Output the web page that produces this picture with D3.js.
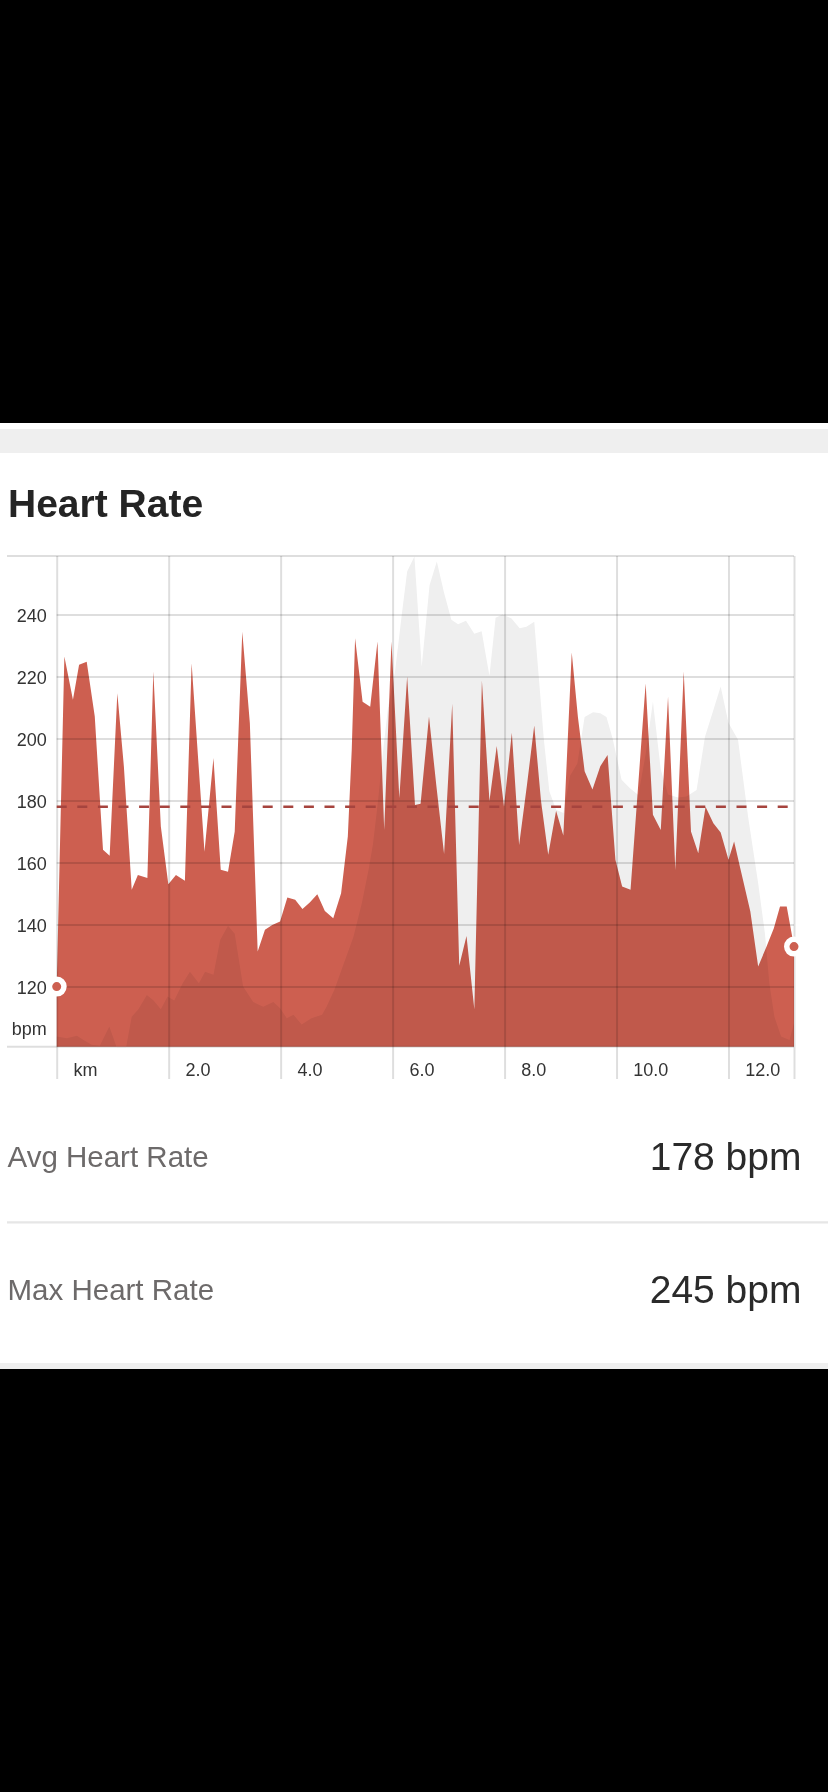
<!DOCTYPE html>
<html lang="en">
<head>
<meta charset="utf-8">
<title>Heart Rate</title>
<style>
  html, body {margin: 0; padding: 0; background-color: #000;}
  svg {display: block; font-family: "Liberation Sans", Arial, sans-serif;}
  .grid line {stroke: #000; stroke-opacity: 0.13; stroke-width: 2;}
  .grid text {fill: #333; font-size: 18px; font-family: "Liberation Sans", Arial, sans-serif;}
  .hr {mix-blend-mode: multiply;}
</style>
</head>
<body>
<svg id="page" width="828" height="1792"></svg>
<script src="https://cdnjs.cloudflare.com/ajax/libs/d3/7.8.5/d3.min.js"></script>
<script>
  // heart rate samples: distance (km) and bpm
  var hrKm = [0, 0.137, 0.29, 0.40, 0.536, 0.68, 0.827, 0.946, 1.083, 1.20, 1.34, 1.45, 1.62, 1.726, 1.86,
    1.994, 2.13, 2.29, 2.41, 2.64, 2.80, 2.93, 3.06, 3.18, 3.315, 3.45, 3.59, 3.72, 3.85, 3.99, 4.12, 4.26,
    4.39, 4.52, 4.655, 4.79, 4.94, 5.08, 5.20, 5.27, 5.33, 5.464, 5.60, 5.73, 5.85, 5.98, 6.12, 6.26, 6.40,
    6.50, 6.65, 6.78, 6.92, 7.065, 7.19, 7.32, 7.46, 7.595, 7.73, 7.86, 7.99, 8.13, 8.26, 8.40, 8.53, 8.65,
    8.78, 8.92, 9.05, 9.20, 9.31, 9.43, 9.57, 9.71, 9.84, 9.98, 10.10, 10.25, 10.52, 10.65, 10.79, 10.92,
    11.05, 11.20, 11.33, 11.46, 11.59, 11.73, 11.86, 12.00, 12.10, 12.23, 12.39, 12.53, 12.68, 12.81, 12.92,
    13.04, 13.17];
  var hrBpm = [120, 226.5, 212.5, 223.8, 224.8, 207.1, 164.1, 162.2, 214.6, 191, 151.2, 156, 155, 221.6, 171.6,
    153, 156, 154.1, 224.3, 163.5, 193.7, 157.7, 157, 170, 234.5, 205, 131.3, 138.3, 139.9, 141, 148.7, 148,
    145, 147.1, 149.8, 144.4, 142, 150.1, 168.4, 196.3, 232.4, 211.9, 210.3, 231.3, 170.5, 231.3, 180.8, 220, 178.6,
    179, 207.1, 185, 162.8, 211.2, 126.7, 136.3, 112.7, 218.7, 179.9, 197.6, 178, 201.9, 165.7, 185, 204.2, 180,
    162.5, 176.7, 168.7, 227.8, 207, 189.5, 183.6, 191.1, 194.7, 160.9, 152.3, 151.2, 217.8, 175.4, 170.5, 213.5,
    157.6, 221.6, 170, 163, 178, 172.7, 169.7, 160.9, 166.8, 156.6, 144.2, 126.5, 132.9, 138.8, 145.8,
    145.8, 132.9];

  // elevation profile, drawn on the bpm scale
  var elevKm = [0, 0.18, 0.36, 0.48, 0.625, 0.77, 0.94, 1.07, 1.24, 1.34, 1.46, 1.61, 1.73, 1.86, 1.98, 2.10,
    2.25, 2.38, 2.54, 2.65, 2.80, 2.92, 3.06, 3.18, 3.33, 3.51, 3.69, 3.87, 3.99, 4.11, 4.23, 4.375, 4.55,
    4.74, 4.82, 4.96, 5.12, 5.30, 5.45, 5.57, 5.65, 5.74, 5.83, 5.92, 6.04, 6.16, 6.26, 6.39, 6.52, 6.66,
    6.79, 6.92, 7.05, 7.17, 7.31, 7.46, 7.59, 7.73, 7.84, 7.96, 8.12, 8.27, 8.39, 8.53, 8.63, 8.70, 8.80,
    8.92, 9.05, 9.17, 9.30, 9.43, 9.58, 9.71, 9.82, 9.93, 10.09, 10.24, 10.39, 10.52, 10.65, 10.79, 10.92,
    11.10, 11.25, 11.43, 11.58, 11.73, 11.86, 12.00, 12.17, 12.35, 12.53, 12.65, 12.73, 12.82, 12.94, 13.09,
    13.17];
  var elevation = [103.9, 103.3, 104.1, 102.8, 101.2, 100.9, 107.1, 100.4, 100.4, 110.3, 112.7, 117.3, 115.5,
    112.7, 116.8, 115.5, 121.1, 124.8, 121.1, 124.8, 123.8, 135, 139.6, 137, 120, 115, 113.5, 115, 113, 109.8,
    110.9, 107.8, 109.8, 110.9, 113.5, 119, 127, 136, 146.9, 157.6, 166, 180, 196, 210.3, 221.1, 239.4, 253.9,
    258.7, 223.2, 249.5, 257.1, 247, 238.3, 236.9, 238, 233.8, 234.6, 220.3, 239, 240, 238.8, 235.6, 236.1,
    237.7, 215.7, 200, 183, 177, 176, 188, 192, 207, 208.5, 208.2, 207, 200, 186.7, 184, 181.8, 195, 211.9,
    190, 182, 181, 181.3, 183.4, 200.6, 209.2, 216.8, 205, 199.6, 174.8, 153.3, 137.2, 121, 110.3, 103.9,
    102.8, 108.2];

  var yTicks = [120, 140, 160, 180, 200, 220, 240];
  var xTicks = [0, 2, 4, 6, 8, 10, 12];
  var totalKm = 13.17;
  var avgHr = 178;
  var statLabels = ['Avg Heart Rate', 'Max Heart Rate'];
  var statValues = ['178 bpm', '245 bpm'];

  var red = '#cd5f50';
  var svg = d3.select('#page');

  // page panel
  svg.append('rect').attr('y', 423).attr('width', 828).attr('height', 946).attr('fill', '#fff');
  svg.append('rect').attr('y', 429).attr('width', 828).attr('height', 24).attr('fill', '#efefef');
  svg.append('rect').attr('y', 1363).attr('width', 828).attr('height', 6).attr('fill', '#efefef');

  svg.append('text')
    .attr('x', 8).attr('y', 517)
    .style('font-size', '39px').style('font-weight', 'bold').style('fill', '#242424')
    .text('Heart Rate');

  var x = d3.scaleLinear().domain([0, totalKm]).range([56.7, 794]);
  var y = d3.scaleLinear().domain([100.6, 258.9]).range([1046.7, 556]);

  var area = d3.area()
    .x(function (d) { return x(d[0]); })
    .y0(y.range()[0])
    .y1(function (d) { return y(d[1]); });

  svg.append('path').datum(d3.zip(elevKm, elevation)).attr('d', area).attr('fill', '#efefef');
  svg.append('path').datum(d3.zip(hrKm, hrBpm)).attr('class', 'hr').attr('d', area).attr('fill', red);

  // horizontal grid + bpm labels
  svg.append('g')
    .attr('class', 'grid')
    .attr('transform', 'translate(' + x.range()[0] + ',0)')
    .call(d3.axisLeft(y).tickValues(yTicks).tickSize(-(x.range()[1] - x.range()[0])).tickPadding(10))
    .call(function (g) { g.select('.domain').remove(); })
    .selectAll('text').attr('dy', '0.37em');

  // top and bottom border lines
  svg.append('g')
    .attr('class', 'grid')
    .selectAll('line')
    .data(y.domain())
    .join('line')
    .attr('x1', 7).attr('x2', x.range()[1])
    .attr('y1', function (d) { return y(d); })
    .attr('y2', function (d) { return y(d); });

  svg.append('text')
    .attr('x', 46.7).attr('y', 1035)
    .attr('text-anchor', 'end')
    .style('font-size', '18px').style('fill', '#333')
    .text('bpm');

  // vertical grid + km labels
  var axisY = 1079;
  svg.append('g')
    .attr('class', 'grid')
    .attr('transform', 'translate(0,' + axisY + ')')
    .call(d3.axisBottom(x)
      .tickValues(xTicks.concat([totalKm]))
      .tickSize(-(axisY - y.range()[1]))
      .tickFormat(function (d) { return d === 0 ? 'km' : (d === totalKm ? '' : d.toFixed(1)); }))
    .call(function (g) { g.select('.domain').remove(); })
    .selectAll('text')
    .attr('text-anchor', 'start')
    .attr('x', 16.3)
    .attr('y', -3.5)
    .attr('dy', 0);

  // average line
  svg.append('line')
    .attr('x1', x.range()[0]).attr('x2', x.range()[1])
    .attr('y1', y(avgHr)).attr('y2', y(avgHr))
    .attr('stroke', '#a6443e')
    .attr('stroke-width', 2.5)
    .attr('stroke-dasharray', '10,10.6');

  // start / end markers
  var ends = [[hrKm[0], hrBpm[0]], [hrKm[hrKm.length - 1], hrBpm[hrBpm.length - 1]]];
  svg.selectAll('circle.end')
    .data(ends)
    .join('circle')
    .attr('class', 'end')
    .attr('cx', function (d) { return x(d[0]); })
    .attr('cy', function (d) { return y(d[1]); })
    .attr('r', 7.25)
    .attr('fill', red)
    .attr('stroke', '#fff')
    .attr('stroke-width', 5.5);

  // summary rows
  svg.append('line')
    .attr('x1', 7).attr('x2', 828).attr('y1', 1222.3).attr('y2', 1222.3)
    .attr('stroke', '#e6e6e6').attr('stroke-width', 2.3);

  var rowY = [1167, 1300];
  svg.selectAll('text.stat-label')
    .data(statLabels)
    .join('text')
    .attr('class', 'stat-label')
    .attr('x', 7.5)
    .attr('y', function (d, i) { return rowY[i]; })
    .style('font-size', '29.5px').style('fill', '#6d6a6a')
    .text(function (d) { return d; });

  svg.selectAll('text.stat-value')
    .data(statValues)
    .join('text')
    .attr('class', 'stat-value')
    .attr('x', 801.5)
    .attr('y', function (d, i) { return rowY[i] + 2.5; })
    .attr('text-anchor', 'end')
    .style('font-size', '39px').style('fill', '#2a2a2a')
    .text(function (d) { return d; });
</script>
</body>
</html>
